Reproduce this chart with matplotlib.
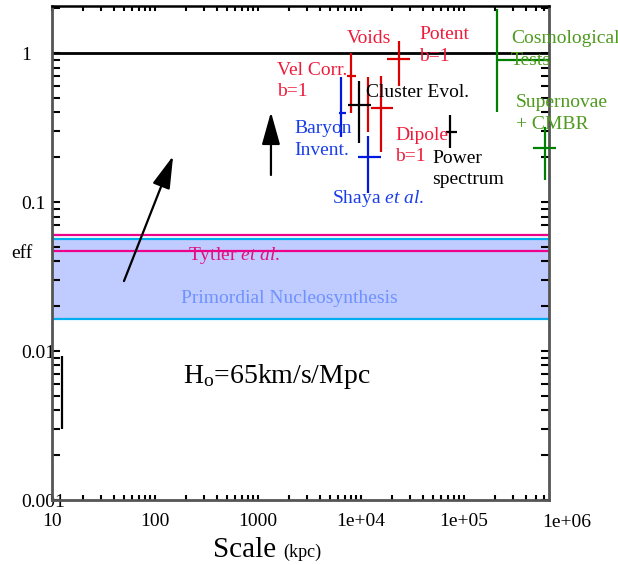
import numpy as np
import matplotlib
matplotlib.use("Agg")
from matplotlib import pyplot as plt
from matplotlib.ticker import LogLocator, NullFormatter, FixedLocator

plt.rcParams['font.family'] = ['Liberation Serif', 'DejaVu Serif']
plt.rcParams['mathtext.fontset'] = 'custom'
plt.rcParams['mathtext.rm'] = 'Liberation Serif'
plt.rcParams['mathtext.it'] = 'Liberation Serif:italic'

# error crosses: vertical extent, plus horizontal bar (None = no bar)
bar_x = [8000, 11700, 15630, 23400, 9570, 6400, 11700, 73100, 209000, 611000, 12.5]
bar_ylo = [0.396, 0.295, 0.217, 0.601, 0.249, 0.273, 0.115, 0.230, 0.402, 0.140, 0.0030]
bar_yhi = [1.0, 0.690, 0.701, 1.204, 0.649, 0.690, 0.277, 0.384, 1.973, 0.319, 0.0093]
tick_y = [0.701, None, 0.428, 0.912, 0.448, 0.396, 0.200, 0.295, 0.898, 0.230, None]
tick_xlo = [7310, None, 12500, 17870, 7480, 6110, 9350, 66800, 209000, 468000, None]
tick_xhi = [8940, None, 20470, 29900, 12500, 7140, 15630, 85500, 668000, 782000, None]
bar_col = ['#dd0000', '#dd0000', '#dd0000', '#dd0000', 'black', '#0018e0',
           '#0018e0', 'black', '#008000', '#008000', 'black']

# horizontal constraints
omega_one = 1.0
bbn_lo, bbn_hi = 0.0164, 0.0567
tytler_lo, tytler_hi = 0.0471, 0.0604

# arrows (tail -> tip)
arrow_tail = [(50, 0.0295), (1336, 0.152)]
arrow_tip = [(150, 0.204), (1336, 0.402)]

labels = [
    (["Voids"], 7310, 1.26, '#ee1c3c'),
    (["Potent", "b=1"], 36600, 1.123, '#ee1c3c'),
    (["Vel Corr.", "b=1"], 1528, 0.649, '#ee1c3c'),
    (["Cluster Evol."], 11200, 0.548, 'black'),
    (["Baryon", "Invent."], 2240, 0.263, '#1a3ee8'),
    (["Dipole", "b=1"], 21400, 0.2375, '#ee1c3c'),
    (["Power", "spectrum"], 48900, 0.1665, 'black'),
    ([r"Shaya $\it{et\ al.}$"], 5230, 0.106, '#1a3ee8'),
    (["Cosmological", "Tests"], 286000, 1.056, '#4e9a1e'),
    (["Supernovae", "+ CMBR"], 320000, 0.393, '#4e9a1e'),
    ([r"Tytler $\it{et\ al.}$"], 209, 0.0441, '#e0107e'),
    (["Primordial Nucleosynthesis"], 179, 0.0227, '#6e92ff'),
]
line_step = 15.5  # points between text lines

xticks = [10, 100, 1000, 1e4, 1e5]
xticklabels = ["10", "100", "1000", "1e+04", "1e+05"]
yticks = [0.001, 0.01, 0.1, 1]
yticklabels = ["0.001", "0.01", "0.1", "1"]

fig = plt.figure(figsize=(6.18, 5.65), dpi=100)
ax = fig.add_axes([0.0841, 0.1150, 0.8042, 0.8743])
ax.set_xscale('log')
ax.set_yscale('log')
ax.set_xlim(10, 6.68e5)
ax.set_ylim(0.001, 2.07)

ax.axhspan(bbn_lo, bbn_hi, color='#c0cbff', lw=0, zorder=1)
ax.axhline(bbn_lo, color='#00aeef', lw=1.6, zorder=2)
ax.axhline(bbn_hi, color='#00aeef', lw=1.6, zorder=2)
ax.axhline(tytler_lo, color='#ec008c', lw=1.6, zorder=2)
ax.axhline(tytler_hi, color='#ec008c', lw=1.6, zorder=2)
ax.axhline(omega_one, color='black', lw=2, zorder=2)

for i in range(len(bar_x)):
    ax.vlines(bar_x[i], bar_ylo[i], bar_yhi[i], color=bar_col[i], lw=1.6, zorder=3)
    if tick_y[i] is not None:
        ax.hlines(tick_y[i], tick_xlo[i], tick_xhi[i], color=bar_col[i], lw=1.6,
                  zorder=3, clip_on=False)

for tail, tip in zip(arrow_tail, arrow_tip):
    ax.annotate('', xy=tip, xytext=tail,
                arrowprops=dict(arrowstyle='-|>,head_length=1.0,head_width=0.28',
                                mutation_scale=20, color='black', lw=1.6,
                                shrinkA=0, shrinkB=0))

for lines, x, y, c in labels:
    n = len(lines)
    for k, line in enumerate(lines):
        off = ((n - 1) / 2 - k) * line_step
        ax.annotate(line, xy=(x, y), xytext=(0, off), textcoords='offset points',
                    color=c, fontsize=14, ha='left', va='center', zorder=4)

ax.text(187, 0.0067, r"H$_\mathrm{o}$=65km/s/Mpc", fontsize=20, ha='left', va='center')

# ticks
ax.xaxis.set_major_locator(FixedLocator(xticks))
ax.set_xticklabels(xticklabels)
ax.xaxis.set_minor_locator(LogLocator(base=10, subs=np.arange(2, 10)))
ax.xaxis.set_minor_formatter(NullFormatter())
ax.yaxis.set_major_locator(FixedLocator(yticks))
ax.set_yticklabels(yticklabels)
ax.yaxis.set_minor_locator(LogLocator(base=10, subs=np.arange(2, 10)))
ax.yaxis.set_minor_formatter(NullFormatter())
ax.tick_params(axis='both', which='both', direction='in', top=True, right=True,
               width=1.5, labelsize=14)
ax.tick_params(axis='x', which='both', length=3.5, pad=9)
ax.tick_params(axis='y', which='both', length=5.5, pad=22)
for lbl in ax.get_yticklabels():
    lbl.set_ha('left')

ax.text(1e6, -0.0445, "1e+06", transform=ax.get_xaxis_transform(), fontsize=14,
        ha='center', va='center', clip_on=False)
ax.text(-0.0825, 0.0455, "eff", transform=ax.get_yaxis_transform(), fontsize=14,
        ha='left', va='center', clip_on=False)

for side in ['left', 'right', 'bottom']:
    ax.spines[side].set_color('#555555')
    ax.spines[side].set_linewidth(2)
ax.spines['top'].set_color('black')
ax.spines['top'].set_linewidth(1.8)

fig.text(213 / 618, 1 - 557 / 565, "Scale", fontsize=21, ha='left', va='baseline')
fig.text(283 / 618, 1 - 557 / 565, "(kpc)", fontsize=13, ha='left', va='baseline')

fig.savefig("out.png", dpi=100)
